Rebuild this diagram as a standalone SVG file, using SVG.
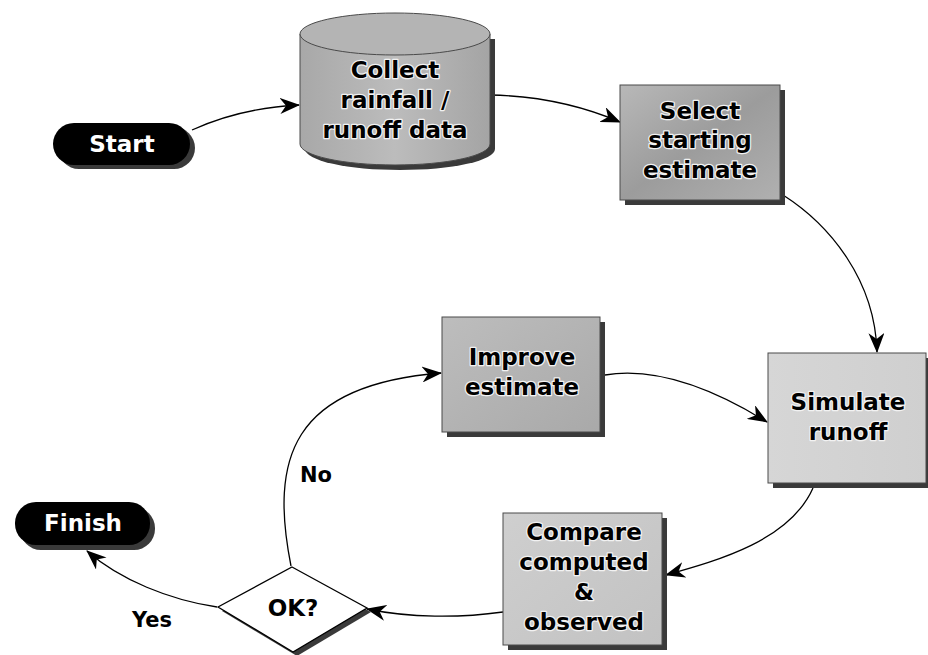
<svg xmlns="http://www.w3.org/2000/svg" width="928" height="655" viewBox="0 0 928 655">
<defs>
<style>
.lbl{font-family:"DejaVu Sans","Liberation Sans",sans-serif;font-weight:bold;font-size:23px;text-anchor:middle;fill:#000;stroke:#f2f2f2;stroke-width:2.5px;paint-order:stroke;stroke-linejoin:round}
.term{font-family:"DejaVu Sans","Liberation Sans",sans-serif;font-weight:bold;font-size:23px;text-anchor:middle;fill:#fff}
.elbl{font-family:"DejaVu Sans","Liberation Sans",sans-serif;font-weight:bold;font-size:21px;fill:#000}
.shadow{fill:#3a3a3a}
.box{stroke:#4a4a4a;stroke-width:1}
.conn{fill:none;stroke:#000;stroke-width:1.3}
</style>
<marker id="ah" viewBox="0 0 20 16" refX="19" refY="8" markerWidth="20" markerHeight="16" markerUnits="userSpaceOnUse" orient="auto">
<path d="M0,0 L20,8 L0,16 L6,8 z" fill="#000"/>
</marker>
<linearGradient id="gSel" x1="0" y1="0" x2="1" y2="1">
<stop offset="0" stop-color="#b8b8b8"/><stop offset="0.5" stop-color="#9c9c9c"/><stop offset="1" stop-color="#b0b0b0"/>
</linearGradient>
<linearGradient id="gCyl" x1="0" y1="0" x2="1" y2="0">
<stop offset="0" stop-color="#a8a8a8"/><stop offset="0.5" stop-color="#bcbcbc"/><stop offset="1" stop-color="#a4a4a4"/>
</linearGradient>
<linearGradient id="gImp" x1="0" y1="0" x2="1" y2="1">
<stop offset="0" stop-color="#bdbdbd"/><stop offset="1" stop-color="#a9a9a9"/>
</linearGradient>
<linearGradient id="gSim" x1="0" y1="0" x2="1" y2="0">
<stop offset="0" stop-color="#d6d6d6"/><stop offset="1" stop-color="#cfcfcf"/>
</linearGradient>
<linearGradient id="gCmp" x1="0" y1="0" x2="1" y2="1">
<stop offset="0" stop-color="#cfcfcf"/><stop offset="1" stop-color="#c2c2c2"/>
</linearGradient>
</defs>
<rect width="928" height="655" fill="#fff"/>

<g id="connectors">
<path class="conn" d="M192,130 Q240,108 299,105" marker-end="url(#ah)"/>
<path class="conn" d="M490,95 C540,96 585,107 620,122" marker-end="url(#ah)"/>
<path class="conn" d="M783,195 C830,225 875,280 877,352" marker-end="url(#ah)"/>
<path class="conn" d="M605,375 C660,366 720,393 767,422" marker-end="url(#ah)"/>
<path class="conn" d="M813,488 C790,540 720,560 666,575" marker-end="url(#ah)"/>
<path class="conn" d="M503,612 C460,618 410,618 367,609" marker-end="url(#ah)"/>
<path class="conn" d="M291,566 C270,460 290,385 441,373" marker-end="url(#ah)"/>
<path class="conn" d="M217,607 C170,600 120,580 87,551" marker-end="url(#ah)"/>
<text class="elbl" x="300" y="482">No</text>
<text class="elbl" x="132" y="627">Yes</text>
</g>

<g id="start">
<rect class="shadow" x="58" y="127" width="137" height="42" rx="21"/>
<rect x="53" y="123" width="137" height="42" rx="21" fill="#000"/>
<text class="term" x="122" y="152">Start</text>
</g>

<g id="collect">
<path class="shadow" d="M305,39 L305,149 A95,21 0 0 0 495,149 L495,39 z"/>
<path class="box" d="M300,34 L300,144 A95,21 0 0 0 490,144 L490,34" fill="url(#gCyl)"/>
<ellipse class="box" cx="395" cy="34" rx="95" ry="21" fill="#b4b4b4"/>
<text class="lbl" x="395" y="78">Collect</text>
<text class="lbl" x="395" y="108">rainfall /</text>
<text class="lbl" x="395" y="138">runoff data</text>
</g>

<g id="select">
<rect class="shadow" x="625" y="90" width="160" height="115"/>
<rect class="box" x="620" y="85" width="160" height="115" fill="url(#gSel)"/>
<text class="lbl" x="700" y="119">Select</text>
<text class="lbl" x="700" y="148">starting</text>
<text class="lbl" x="700" y="178">estimate</text>
</g>

<g id="simulate">
<rect class="shadow" x="773" y="358" width="160" height="130"/>
<rect class="box" x="768" y="353" width="158" height="130" fill="url(#gSim)"/>
<text class="lbl" x="848" y="410">Simulate</text>
<text class="lbl" x="848" y="440">runoff</text>
</g>

<g id="improve">
<rect class="shadow" x="447" y="322" width="158" height="115"/>
<rect class="box" x="442" y="317" width="158" height="115" fill="url(#gImp)"/>
<text class="lbl" x="522" y="365">Improve</text>
<text class="lbl" x="522" y="395">estimate</text>
</g>

<g id="compare">
<rect class="shadow" x="508" y="518" width="159" height="132"/>
<rect class="box" x="503" y="513" width="159" height="132" fill="url(#gCmp)"/>
<text class="lbl" x="584" y="540">Compare</text>
<text class="lbl" x="584" y="570">computed</text>
<text class="lbl" x="584" y="600">&amp;</text>
<text class="lbl" x="584" y="630">observed</text>
</g>

<g id="ok">
<polygon class="shadow" points="296,571 371,612 297,656 222,611"/>
<polygon points="292,567 367,608 293,652 218,607" fill="#fff" stroke="#000" stroke-width="1.3"/>
<text class="lbl" x="293" y="616" style="stroke:none">OK?</text>
</g>

<g id="finish">
<rect class="shadow" x="20" y="507" width="135" height="43" rx="21"/>
<rect x="15" y="502" width="135" height="43" rx="21" fill="#000"/>
<text class="term" x="83" y="531">Finish</text>
</g>
</svg>
